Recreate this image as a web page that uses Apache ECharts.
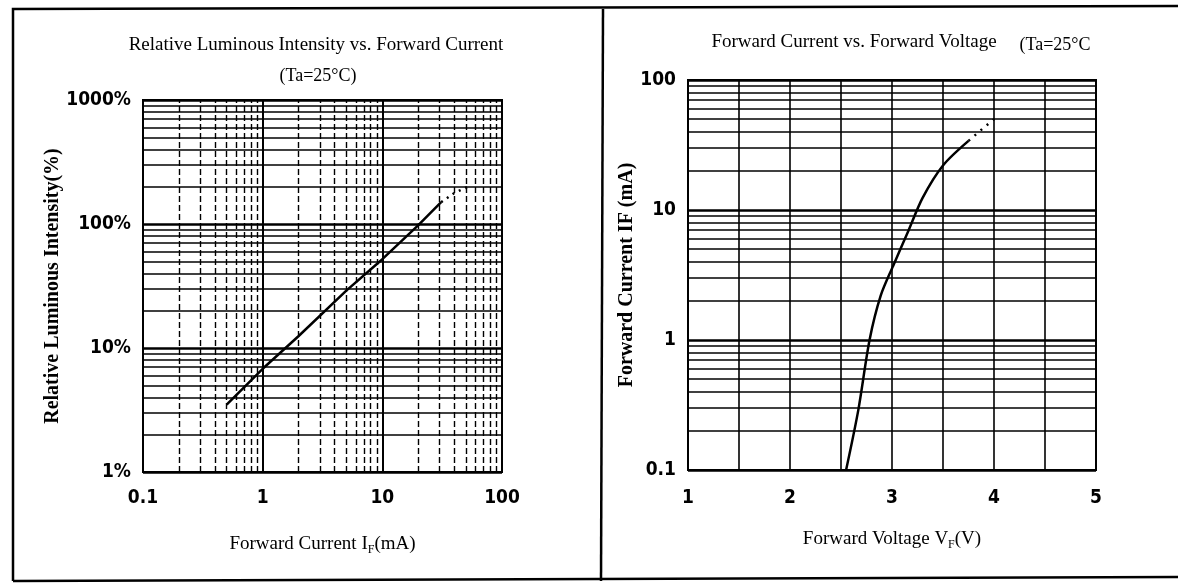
<!DOCTYPE html>
<html>
<head>
<meta charset="utf-8">
<script src="https://cdn.jsdelivr.net/npm/echarts@6/dist/echarts.min.js"></script>
<style>html,body{margin:0;padding:0;background:#fff}#c{width:1178px;height:584px}</style>
</head>
<body>
<div id="c"></div>
<script>
// ---- Left chart: Relative Luminous Intensity vs. Forward Current ----
const lumCurrent = [0.5, 1, 2, 5, 10, 20, 31];          // mA
const lumIntensity = [3.5, 6.8, 12.5, 29, 52, 98, 150]; // %
const lumCurrentExt = [31, 40, 55];
const lumIntensityExt = [150, 178, 205];
const lumXTicks = ['0.1', '1', '10', '100'];
const lumYTicks = ['1%', '10%', '100%', '1000%'];

// ---- Right chart: Forward Current vs. Forward Voltage ----
const vfVoltage = [2.55, 2.67, 2.78, 2.89, 3.01, 3.16, 3.30, 3.50, 3.75]; // V
const vfCurrent = [0.1, 0.29, 1.0, 2.2, 3.7, 6.9, 12.4, 22, 34];          // mA
const vfVoltageExt = [3.75, 3.9, 4.04];
const vfCurrentExt = [34, 43, 53];
const vfXTicks = ['1', '2', '3', '4', '5'];
const vfYTicks = ['0.1', '1', '10', '100'];

function minorLog(lo, hi) {
  const out = [];
  for (let d = lo; d < hi * 0.999; d *= 10) {
    for (let k = 2; k <= 9; k++) out.push(+(k * d).toPrecision(3));
  }
  return out;
}
function pairs(xs, ys) { return xs.map((x, i) => [x, ys[i]]); }

const serif = '"Liberation Serif", "DejaVu Serif", serif';
const narrow = '"DejaVu Sans Condensed", "Liberation Sans Narrow", sans-serif';

const tickLabel = (arr, minExp) => (v => arr[Math.round(Math.log10(v)) - minExp] || '');

const chart = echarts.init(document.getElementById('c'), null, {renderer: 'canvas'});

const axisLbl = {color: '#000', fontFamily: narrow, fontWeight: 'bold', fontSize: 19};
const nameStyle = {
  color: '#000', fontFamily: serif, fontSize: 19,
  rich: {
    a: {fontFamily: serif, fontSize: 19, color: '#000', lineHeight: 24},
    s: {fontFamily: serif, fontSize: 12, color: '#000', verticalAlign: 'bottom', lineHeight: 12}
  }
};

const option = {
  animation: false,
  backgroundColor: '#fff',
  grid: [
    {left: 143, top: 100, width: 359, height: 372, show: true, borderColor: '#000', borderWidth: 2, backgroundColor: 'transparent'},
    {left: 688, top: 80, width: 408, height: 390, show: true, borderColor: '#000', borderWidth: 2, backgroundColor: 'transparent'}
  ],
  xAxis: [
    {
      gridIndex: 0, type: 'log', logBase: 10, min: 0.1, max: 100,
      name: '{a|Forward Current I}{s|F}{a|(mA)}', nameLocation: 'middle', nameGap: 60, nameTextStyle: nameStyle,
      axisLine: {show: true, lineStyle: {color: '#000', width: 2}},
      axisTick: {show: false},
      axisLabel: Object.assign({margin: 17, formatter: tickLabel(lumXTicks, -1)}, axisLbl),
      splitLine: {show: true, lineStyle: {color: '#000', width: 2}}
    },
    {
      gridIndex: 1, type: 'value', min: 1, max: 5, interval: 0.5,
      name: '{a|Forward Voltage V}{s|F}{a|(V)}', nameLocation: 'middle', nameGap: 57, nameTextStyle: nameStyle,
      axisLine: {show: true, lineStyle: {color: '#000', width: 2}},
      axisTick: {show: false},
      axisLabel: Object.assign({margin: 19, formatter: v => (Math.abs(v - Math.round(v)) < 1e-6 ? vfXTicks[Math.round(v) - 1] : '')}, axisLbl),
      splitLine: {show: true, lineStyle: {color: '#000', width: 1.6}}
    }
  ],
  yAxis: [
    {
      gridIndex: 0, type: 'log', logBase: 10, min: 1, max: 1000,
      name: 'Relative Luminous Intensity(%)', nameLocation: 'middle', nameGap: 80, nameRotate: 90,
      nameTextStyle: {color: '#000', fontFamily: serif, fontWeight: 'bold', fontSize: 20},
      axisLine: {show: true, lineStyle: {color: '#000', width: 2}},
      axisTick: {show: false},
      axisLabel: Object.assign({margin: 12, formatter: tickLabel(lumYTicks, 0)}, axisLbl),
      splitLine: {show: true, lineStyle: {color: '#000', width: 2.5}}
    },
    {
      gridIndex: 1, type: 'log', logBase: 10, min: 0.1, max: 100,
      name: 'Forward Current IF (mA)', nameLocation: 'middle', nameGap: 45, nameRotate: 90,
      nameTextStyle: {color: '#000', fontFamily: serif, fontWeight: 'bold', fontSize: 20},
      axisLine: {show: true, lineStyle: {color: '#000', width: 2}},
      axisTick: {show: false},
      axisLabel: Object.assign({margin: 12, formatter: tickLabel(vfYTicks, -1)}, axisLbl),
      splitLine: {show: true, lineStyle: {color: '#000', width: 2.5}}
    }
  ],
  series: [
    {
      type: 'line', xAxisIndex: 0, yAxisIndex: 0, data: pairs(lumCurrent, lumIntensity),
      showSymbol: false, symbol: 'none', lineStyle: {color: '#000', width: 2.5}, z: 5,
      markLine: {
        silent: true, symbol: ['none', 'none'], label: {show: false},
        lineStyle: {color: '#000', width: 1.6, type: 'solid'},
        data: minorLog(1, 1000).map(v => ({yAxis: v}))
      }
    },
    {
      type: 'line', xAxisIndex: 0, yAxisIndex: 0, data: [],
      markLine: {
        silent: true, symbol: ['none', 'none'], label: {show: false},
        lineStyle: {color: '#000', width: 1.4, type: [6, 3]},
        data: minorLog(0.1, 100).map(v => ({xAxis: v}))
      }
    },
    {
      type: 'line', xAxisIndex: 0, yAxisIndex: 0, data: pairs(lumCurrentExt, lumIntensityExt),
      showSymbol: false, symbol: 'none', lineStyle: {color: '#000', width: 2.5, type: [2, 5]}, z: 5
    },
    {
      type: 'line', xAxisIndex: 1, yAxisIndex: 1, data: pairs(vfVoltage, vfCurrent), smooth: 0.3,
      showSymbol: false, symbol: 'none', lineStyle: {color: '#000', width: 2.5}, z: 5,
      markLine: {
        silent: true, symbol: ['none', 'none'], label: {show: false},
        lineStyle: {color: '#000', width: 1.6, type: 'solid'},
        data: minorLog(0.1, 100).map(v => ({yAxis: v}))
      }
    },
    {
      type: 'line', xAxisIndex: 1, yAxisIndex: 1, data: pairs(vfVoltageExt, vfCurrentExt),
      showSymbol: false, symbol: 'none', lineStyle: {color: '#000', width: 2.5, type: [2, 6]}, z: 5
    }
  ],
  graphic: [
    {type: 'text', x: 316, y: 45, style: {text: 'Relative Luminous Intensity vs. Forward Current', font: '19px ' + serif, fill: '#000', align: 'center', verticalAlign: 'middle'}},
    {type: 'text', x: 318, y: 76, style: {text: '(Ta=25°C)', font: '18px ' + serif, fill: '#000', align: 'center', verticalAlign: 'middle'}},
    {type: 'text', x: 854, y: 42, style: {text: 'Forward Current vs. Forward Voltage', font: '19px ' + serif, fill: '#000', align: 'center', verticalAlign: 'middle'}},
    {type: 'text', x: 1055, y: 45, style: {text: '(Ta=25°C', font: '18px ' + serif, fill: '#000', align: 'center', verticalAlign: 'middle'}},
    {type: 'polyline', shape: {points: [[13, 581], [13, 9], [1178, 6]]}, style: {stroke: '#000', lineWidth: 2.5, fill: null}},
    {type: 'line', shape: {x1: 603, y1: 9, x2: 601, y2: 581}, style: {stroke: '#000', lineWidth: 2.5}},
    {type: 'line', shape: {x1: 13, y1: 581, x2: 1178, y2: 577}, style: {stroke: '#000', lineWidth: 2.5}}
  ]
};
chart.setOption(option);
</script>
</body>
</html>
